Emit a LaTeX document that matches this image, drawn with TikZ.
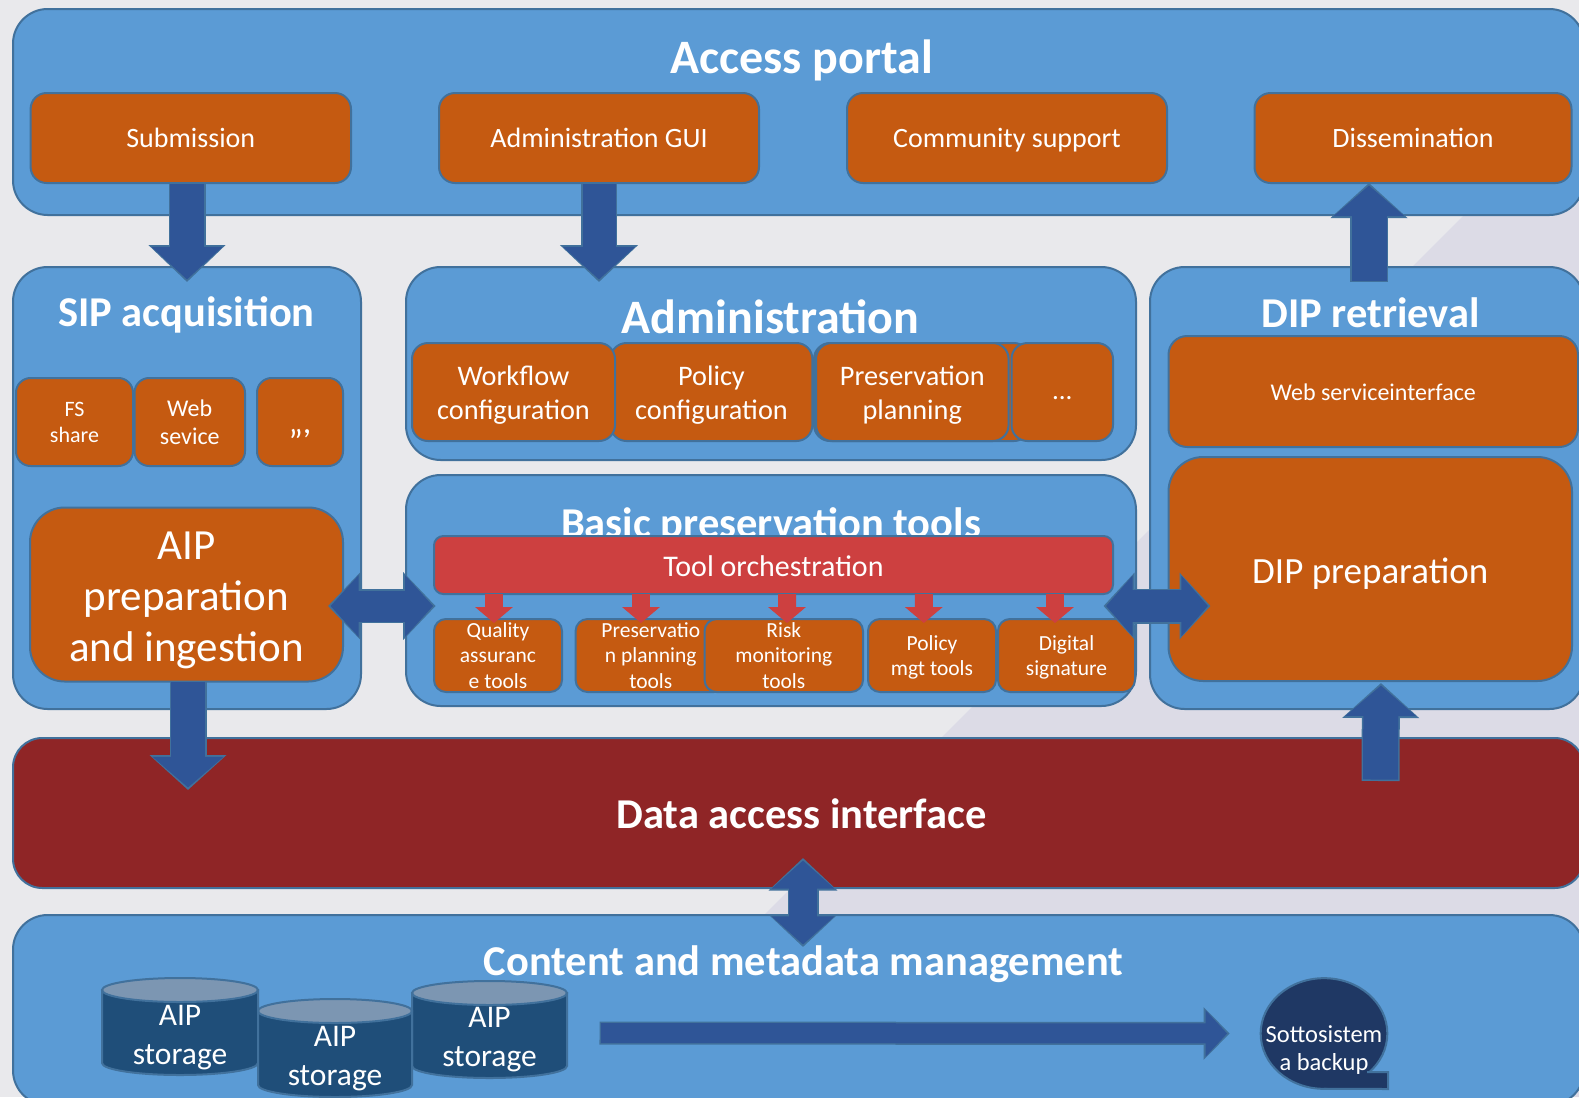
\documentclass[tikz,border=0pt]{standalone}
\usepackage{fontspec}
\usetikzlibrary{shapes.geometric,arrows.meta}
\setmainfont{Carlito}
\definecolor{bgl}{HTML}{E9E9EC}
\definecolor{bgd}{HTML}{DCDBE6}
\definecolor{pfill}{HTML}{5B9BD5}
\definecolor{oline}{HTML}{41719C}
\definecolor{orng}{HTML}{C55A11}
\definecolor{redf}{HTML}{CD4040}
\definecolor{dred}{HTML}{8F2526}
\definecolor{arrf}{HTML}{2F5597}
\definecolor{cylf}{HTML}{1F4E79}
\definecolor{cylt}{HTML}{7C96B2}
\definecolor{bakf}{HTML}{1F3864}
\newcommand{\pxfont}[2]{\pgfmathsetmacro{\myfa}{#1*0.75}\pgfmathsetmacro{\myfb}{#2*0.75}\fontsize{\myfa pt}{\myfb pt}\selectfont}
\newcommand{\topr}[1]{\rule{0pt}{#1pt}}
\tikzset{
  x=0.75pt,y=-0.75pt,
  anynode/.style={draw=oline,line width=1.5pt,inner sep=0pt,outer sep=0pt,text=white,align=center},
  panel/.style={anynode,fill=pfill,rounded corners=26pt},
  orbox/.style={anynode,fill=orng},
  redbox/.style={anynode,fill=redf,rounded corners=7pt},
  datab/.style={anynode,fill=dred,rounded corners=22pt},
  titletext/.style={anchor=base,text=white,inner sep=0pt,align=center},
}
% box from two corners given in pixels
\newcommand{\pbox}[7][]{%
  \pgfmathsetlengthmacro{\myw}{(#5-#3)*0.75pt}%
  \pgfmathsetlengthmacro{\myh}{(#6-#4)*0.75pt}%
  \node[#1,minimum width=\myw,minimum height=\myh] (#2) at ({(#3+#5)/2},{(#4+#6)/2}) {#7};}
% block connector: tips, outline, fill, shaft, head width, head length, from, to (pixels)
\newcommand{\barrow}[8]{%
  \pgfmathsetlengthmacro{\mysa}{#4*0.75pt}\pgfmathsetlengthmacro{\mysb}{(#4-3)*0.75pt}%
  \pgfmathsetlengthmacro{\mywa}{#5*0.75pt}\pgfmathsetlengthmacro{\mywb}{(#5-6)*0.75pt}%
  \pgfmathsetlengthmacro{\myla}{#6*0.75pt}\pgfmathsetlengthmacro{\mylb}{(#6-4.5)*0.75pt}%
  \ifnum#1=1
    \draw[#2,line width=\mysa,-{Triangle[length=\myla,width=\mywa]}] #7 -- #8;
    \draw[#3,line width=\mysb,shorten <=1.1pt,shorten >=1.9pt,-{Triangle[length=\mylb,width=\mywb]}] #7 -- #8;
  \else
    \draw[#2,line width=\mysa,{Triangle[length=\myla,width=\mywa]}-{Triangle[length=\myla,width=\mywa]}] #7 -- #8;
    \draw[#3,line width=\mysb,shorten <=1.9pt,shorten >=1.9pt,{Triangle[length=\mylb,width=\mywb]}-{Triangle[length=\mylb,width=\mywb]}] #7 -- #8;
  \fi}
% storage drum
\newcommand{\drum}[6]{%
  \pgfmathsetlengthmacro{\myrx}{(#4-#2)*0.375pt}%
  \filldraw[fill=cylf,draw=oline,line width=1.5pt] (#2,#3+12) -- (#2,#5-12)
     arc[start angle=180,end angle=360,x radius=\myrx,y radius=9pt] -- (#4,#3+12) -- cycle;
  \filldraw[fill=cylt,draw=oline,line width=1.5pt] ({(#2+#4)/2},#3+12) ellipse [x radius=\myrx,y radius=9pt];
  \node[text=white,inner sep=0pt,align=center,font=\pxfont{31.5}{39}] (#1) at ({(#2+#4)/2},#6) {AIP\\storage};}
\begin{document}
\begin{tikzpicture}
\useasboundingbox (0,0) rectangle (1579,1097);
\clip (0,0) rectangle (1579,1097);
\fill[bgl] (0,0) rectangle (1579,1097);
\fill[bgd] (1579,100) -- (1579,1097) -- (582,1097) -- cycle;

% Access portal
\pbox[panel]{access}{13}{9}{1584}{215}{}
\node[titletext,font=\bfseries\pxfont{48}{54}] (accesst) at (801.5,73.5) {Access portal};
\pbox[orbox,rounded corners=12pt,font=\pxfont{28}{32}]{submission}{30.6}{93}{351}{183}{Submission}
\pbox[orbox,rounded corners=12pt,font=\pxfont{28}{32}]{admingui}{439}{93}{759}{183}{Administration GUI}
\pbox[orbox,rounded corners=12pt,font=\pxfont{28}{32}]{community}{847}{93}{1167}{183}{\raisebox{0pt}[\height][0pt]{Community support}}
\pbox[orbox,rounded corners=12pt,font=\pxfont{28}{32}]{dissem}{1254.5}{93}{1571.5}{183}{Dissemination}

% SIP acquisition
\pbox[panel]{sip}{13}{267}{361}{709}{}
\node[titletext,font=\bfseries\pxfont{42.5}{48}] (sipt) at (186.5,326.5) {SIP acquisition};
\pbox[orbox,rounded corners=11pt,font=\pxfont{22}{26}]{fsshare}{16}{378}{133}{466}{FS\\share}
\pbox[orbox,rounded corners=11pt,font=\pxfont{24}{28}]{websvc}{134.5}{378}{245}{466}{Web\\sevice}
\pbox[orbox,rounded corners=11pt,font=\pxfont{34}{38}]{ddd}{257}{378}{343}{466}{\topr{21},,,}
\pbox[orbox,rounded corners=26pt,font=\pxfont{43}{51}]{aipprep}{30}{507.5}{343}{681.5}{\topr{29.6}AIP\\preparation\\and ingestion}

% Administration
\pbox[panel]{admin}{406}{267}{1136}{460}{}
\node[titletext,font=\bfseries\pxfont{48}{54}] (admint) at (770.5,333.5) {Administration};
\pbox[orbox,rounded corners=12pt,font=\pxfont{28.3}{34.5}]{policyc}{610.5}{343}{812.4}{441}{\topr{19.5}Policy\\configuration}
\pbox[orbox,rounded corners=12pt,font=\pxfont{28.3}{34.5}]{workflow}{412}{343}{615}{441}{\topr{19.5}Workflow\\configuration}
\pbox[orbox,rounded corners=12pt]{behind}{814}{343}{1030}{441}{}
\pbox[orbox,rounded corners=12pt,font=\pxfont{28.3}{34.5}]{presplan}{816}{343}{1008.6}{441}{\topr{19.5}Preservation\\planning}
\pbox[orbox,rounded corners=12pt,font=\pxfont{27}{32}]{dots}{1011.5}{343}{1113}{441}{\topr{11}...}

% Basic preservation tools
\pbox[panel]{basic}{406}{475}{1136}{706}{}
\node[titletext,font=\bfseries\pxfont{42.5}{48}] (basict) at (771,537) {Basic preservation tools};
\pbox[redbox,font=\pxfont{30}{34}]{orch}{434}{536}{1113}{594}{\topr{18}Tool orchestration}
\pbox[orbox,rounded corners=9pt,font=\pxfont{21.5}{25.4}]{quality}{434}{619}{562}{692}{Quality\\assuranc\\e tools}
\pbox[orbox,rounded corners=9pt,font=\pxfont{21.5}{25.4}]{pres}{575.6}{619}{726}{692}{Preservatio\\n planning\\tools}
\pbox[orbox,rounded corners=9pt,font=\pxfont{21.5}{25.4}]{risk}{704.6}{619}{863}{692}{Risk\\monitoring\\tools}
\pbox[orbox,rounded corners=9pt,font=\pxfont{21.5}{25.4}]{policy}{868}{619}{996}{692}{\topr{14.3}Policy\\mgt tools}
\pbox[orbox,rounded corners=9pt,font=\pxfont{21.5}{25.4}]{digital}{998}{619}{1135}{692}{\topr{14.3}Digital\\signature}

% DIP retrieval
\pbox[panel]{dip}{1150}{267}{1584}{709}{}
\node[titletext,font=\bfseries\pxfont{42.5}{48}] (dipt) at (1370.5,327.7) {DIP retrieval};
\pbox[orbox,rounded corners=14pt,font=\pxfont{24}{28}]{websi}{1168.5}{336}{1578}{447}{\topr{14.2}Web serviceinterface}
\pbox[orbox,rounded corners=26pt,font=\pxfont{37}{44}]{dipprep}{1168.5}{457}{1572}{681}{\topr{25.5}DIP preparation}

% Data access interface
\pbox[datab]{data}{13}{738}{1584}{888}{}
\node[titletext,font=\bfseries\pxfont{42.5}{48}] (datat) at (801.5,828) {Data access interface};

% Content and metadata management
\pbox[panel]{content}{13}{915}{1584}{1105}{}
\node[titletext,font=\bfseries\pxfont{42.5}{48}] (contentt) at (803.5,975.5) {Content and metadata management};
\drum{drumb}{102}{978}{258}{1075}{1038}
\drum{drumd}{412}{981}{567}{1078}{1040}
\drum{drumc}{258}{999}{412}{1097}{1059}

% Backup
\node[ellipse,anynode,fill=bakf,minimum width=95pt,minimum height=83pt] (backup) at (1324,1033.5) {};
\fill[bakf] (1324,1089) -- (1388,1089) -- (1388,1072) -- (1360,1072) -- cycle;
\draw[oline,line width=1.5pt] (backup.south) -- (1388,1089) -- (1388,1072) -- (1367,1072);
\node[text=white,inner sep=0pt,align=center,font=\pxfont{24.5}{28.5}] (backupt) at (1324,1050) {Sottosistem\\a backup};

% Connectors
\barrow{1}{oline}{arrf}{37}{75}{37}{([shift={(-3.8,0)}]submission.south)}{([shift={(0,15)}]sip.north)}
\barrow{1}{oline}{arrf}{36}{76}{37}{(admingui.south)}{([shift={(-172,15)}]admin.north)}
\barrow{1}{oline}{arrf}{38}{75}{35}{([shift={(2,15)}]dip.north)}{([shift={(-44,0)}]dissem.south)}
\barrow{1}{oline}{arrf}{37}{75}{35}{([shift={(1.5,-1)}]aipprep.south)}{([shift={(-610.5,52)}]data.north)}
\barrow{1}{oline}{arrf}{38}{75}{35}{([shift={(582,43)}]data.north)}{([shift={(10.7,2)}]dipprep.south)}
\barrow{2}{oline}{arrf}{34}{66}{32.5}{([shift={(-15,11.5)}]aipprep.east)}{([shift={(29.6,15.5)}]basic.west)}
\barrow{2}{oline}{arrf}{35}{65}{31}{([shift={(-32.5,15.5)}]basic.east)}{([shift={(42,37)}]dipprep.west)}
\barrow{2}{oline}{arrf}{31}{67}{32.5}{([shift={(4.5,-30)}]data.south)}{([shift={(4.5,32)}]content.north)}
\coordinate (longstart) at (599.5,1033);
\barrow{1}{oline}{arrf}{23}{51}{26}{(longstart)}{([shift={(-31,0)}]backup.west)}
\barrow{1}{redf}{redf}{18}{37}{16}{([shift={(-279.5,0)}]orch.south)}{([shift={(-4,4)}]quality.north)}
\barrow{1}{redf}{redf}{18}{37}{16}{([shift={(-132.5,0)}]orch.south)}{([shift={(-9.8,4)}]pres.north)}
\barrow{1}{redf}{redf}{18}{37}{16}{([shift={(13.5,0)}]orch.south)}{([shift={(3.2,4)}]risk.north)}
\barrow{1}{redf}{redf}{18}{37}{16}{([shift={(150.3,0)}]orch.south)}{([shift={(-8.2,4)}]policy.north)}
\barrow{1}{redf}{redf}{18}{37}{16}{([shift={(281.5,0)}]orch.south)}{([shift={(-11.5,4)}]digital.north)}
\end{tikzpicture}
\end{document}
